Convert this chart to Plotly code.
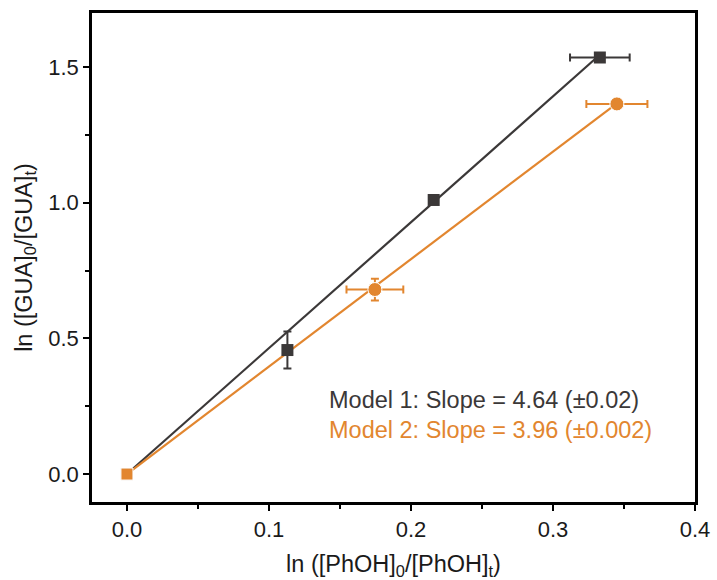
import plotly.graph_objects as go

# Model 1 (black squares)
m1_x = [0.0, 0.113, 0.216, 0.333]
m1_y = [0.0, 0.457, 1.01, 1.535]
m1_xerr = [0.0, 0.0, 0.0, 0.021]
m1_yerr = [0.0, 0.068, 0.0, 0.0]
m1_fit_x = [0.0, 0.333]
m1_fit_y = [0.0, 1.545]

# Model 2 (orange circles)
m2_x = [0.0, 0.1746, 0.345]
m2_y = [0.0, 0.68, 1.364]
m2_xerr = [0.0, 0.020, 0.0215]
m2_yerr = [0.0, 0.04, 0.0]
m2_fit_x = [0.0, 0.345]
m2_fit_y = [0.0, 1.366]

x_ticks = [0.0, 0.1, 0.2, 0.3, 0.4]
y_ticks = [0.0, 0.5, 1.0, 1.5]

label1 = "Model 1: Slope = 4.64 (±0.02)"
label2 = "Model 2: Slope = 3.96 (±0.002)"

BLACK = "#3b3838"
ORANGE = "#e2862f"
FONT = "Liberation Sans, Arial, sans-serif"

fig = go.Figure()

fig.add_trace(go.Scatter(x=m1_fit_x, y=m1_fit_y, mode="lines",
                         line=dict(color=BLACK, width=2.2), showlegend=False))
fig.add_trace(go.Scatter(x=m2_fit_x, y=m2_fit_y, mode="lines",
                         line=dict(color=ORANGE, width=2.2), showlegend=False))

fig.add_trace(go.Scatter(
    x=m1_x, y=m1_y, mode="markers",
    marker=dict(symbol="square", size=12, color=BLACK, opacity=1),
    error_x=dict(type="data", array=m1_xerr, color=BLACK, thickness=2, width=4),
    error_y=dict(type="data", array=m1_yerr, color=BLACK, thickness=2, width=4),
    showlegend=False))

fig.add_trace(go.Scatter(
    x=m2_x, y=m2_y, mode="markers",
    marker=dict(symbol=["square", "circle", "circle"], size=[12, 14, 14], color=ORANGE, opacity=1),
    error_x=dict(type="data", array=m2_xerr, color=ORANGE, thickness=2, width=4),
    error_y=dict(type="data", array=m2_yerr, color=ORANGE, thickness=2, width=4),
    showlegend=False))

fig.add_annotation(x=0.1408, y=0.273, xref="x", yref="y", text=label1,
                   showarrow=False, xanchor="left", yanchor="middle",
                   font=dict(family=FONT, size=23.5, color=BLACK))
fig.add_annotation(x=0.1408, y=0.162, xref="x", yref="y", text=label2,
                   showarrow=False, xanchor="left", yanchor="middle",
                   font=dict(family=FONT, size=23.5, color=ORANGE))

axis_common = dict(showline=True, linewidth=2.5, linecolor="black", mirror=True,
                   ticks="outside", ticklen=6, tickwidth=2, tickcolor="black",
                   showgrid=False, zeroline=False, automargin=False,
                   tickfont=dict(family=FONT, size=22, color="#1a1a1a"),
                   tickformat=".1f")

fig.update_xaxes(range=[-0.0246, 0.4], tickvals=x_ticks,
                 minor=dict(ticks="outside", dtick=0.05, tick0=0, ticklen=4, tickwidth=2, tickcolor="black"),
                 title=dict(text="ln ([PhOH]<sub>0</sub>/[PhOH]<sub>t</sub>)",
                            font=dict(family=FONT, size=23.5, color="#1a1a1a"), standoff=21),
                 **axis_common)
fig.update_yaxes(range=[-0.103, 1.699], tickvals=y_ticks,
                 minor=dict(ticks="outside", dtick=0.25, tick0=0, ticklen=4, tickwidth=2, tickcolor="black"),
                 title=dict(text="ln ([GUA]<sub>0</sub>/[GUA]<sub>t</sub>)",
                            font=dict(family=FONT, size=23.5, color="#1a1a1a"), standoff=10),
                 **axis_common)

fig.update_layout(width=717, height=580,
                  margin=dict(l=92, r=22, t=13, b=78),
                  plot_bgcolor="white", paper_bgcolor="white")

fig.write_html("out.html")
